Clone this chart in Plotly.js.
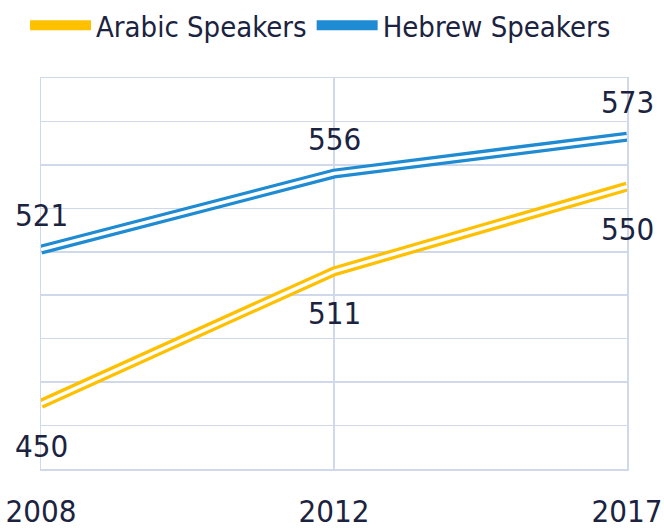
<!DOCTYPE html>
<html>
<head>
<meta charset="utf-8">
<script src="https://cdn.plot.ly/plotly-3.0.1.min.js"></script>
<style>html,body{margin:0;padding:0;background:#fff;}#chart{width:664px;height:528px;}</style>
</head>
<body>
<div id="chart"></div>
<script>
var years = ["2008", "2012", "2017"];
var arabic = [450, 511, 550];
var hebrew = [521, 556, 573];
var seriesNames = ["Arabic Speakers", "Hebrew Speakers"];
var colors = ["#FFC000", "#1E8BD3"];

var fontFam = "'DejaVu Sans Condensed', 'DejaVu Sans', sans-serif";
var txtColor = "#1B2340";
var gridColor = "#D0D8EC";

function outer(y, name, color) {
  return {
    type: "scatter", mode: "lines", x: years, y: y, name: name,
    line: {color: color, width: 10},
    cliponaxis: false, showlegend: true, hoverinfo: "skip"
  };
}
function inner(y) {
  return {
    type: "scatter", mode: "lines", x: years, y: y,
    line: {color: "#FFFFFF", width: 3.5},
    cliponaxis: false, showlegend: false, hoverinfo: "skip"
  };
}

var data = [
  outer(arabic, seriesNames[0], colors[0]),
  inner(arabic),
  outer(hebrew, seriesNames[1], colors[1]),
  inner(hebrew)
];

// category axis annotations use the category index
var annotations = [];
function addLabels(vals, shift) {
  for (var i = 0; i < years.length; i++) {
    annotations.push({
      x: years.indexOf(years[i]), y: vals[i], xref: "x", yref: "y",
      text: String(vals[i]), showarrow: false,
      xanchor: "center", yanchor: "middle", yshift: shift,
      font: {family: fontFam, size: 31, color: txtColor}
    });
  }
}
addLabels(hebrew, 35);
addLabels(arabic, -42);

var layout = {
  width: 664, height: 528,
  margin: {l: 41, r: 37, t: 78, b: 59, autoexpand: false},
  paper_bgcolor: "#FFFFFF", plot_bgcolor: "#FFFFFF",
  font: {family: fontFam, color: txtColor, size: 31},
  showlegend: true,
  legend: {
    orientation: "h", xref: "container", yref: "container",
    x: 0.0377, y: 1, xanchor: "left", yanchor: "top",
    font: {family: fontFam, size: 29, color: txtColor},
    itemwidth: 61, tracegroupgap: 0, bgcolor: "rgba(0,0,0,0)"
  },
  annotations: annotations,
  xaxis: {
    type: "category", range: [0, 2], showgrid: true, gridcolor: gridColor, gridwidth: 1.5,
    showline: true, mirror: true, linecolor: gridColor, linewidth: 1.5,
    zeroline: false, ticks: "", tickfont: {family: fontFam, size: 31, color: txtColor},
    ticklabelstandoff: 14
  },
  yaxis: {
    range: [420, 600], dtick: 20, showgrid: true, gridcolor: gridColor, gridwidth: 1.5,
    showline: true, mirror: true, linecolor: gridColor, linewidth: 1.5,
    zeroline: false, showticklabels: false, ticks: ""
  }
};

Plotly.newPlot("chart", data, layout, {displayModeBar: false, staticPlot: true});
</script>
</body>
</html>
